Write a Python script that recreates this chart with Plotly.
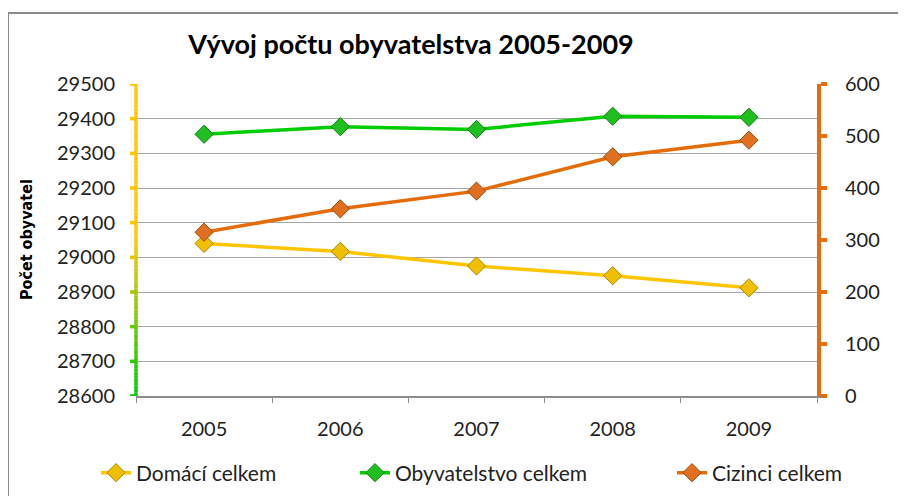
import plotly.graph_objects as go

years = ["2005", "2006", "2007", "2008", "2009"]
domaci = [29040, 29017, 28975, 28947, 28912]
obyvatelstvo = [29355, 29377, 29369, 29407, 29404]
cizinci = [315, 360, 394, 460, 492]

left_ticks = [28600, 28700, 28800, 28900, 29000, 29100, 29200, 29300, 29400, 29500]
right_ticks = [0, 100, 200, 300, 400, 500, 600]

FONT = "Lato"
# the page body has an 8px margin; figure sized to fit the 906x496 window
OFF = 8
W, H = 906 - OFF, 496 - OFF
PL, PR, PT, PB = 136, 817, 84, 396  # plot-area edges in window pixels
PW, PH = PR - PL, PB - PT

fig = go.Figure()

def mk(name, y, line_c, fill_c, edge_c, axis, leg):
    fig.add_trace(go.Scatter(
        x=years, y=y, name=name, mode="lines+markers", yaxis=axis, legend=leg,
        showlegend=True,
        line=dict(color=line_c, width=3.5),
        marker=dict(symbol="diamond", size=14, color=fill_c,
                    line=dict(color=edge_c, width=1)),
    ))

mk("Domácí celkem", domaci, "#FFC600", "#F0C000", "#A88600", "y", "legend")
mk("Obyvatelstvo celkem", obyvatelstvo, "#00CC00", "#1FBF1F", "#0E800E", "y", "legend2")
mk("Cizinci celkem", cizinci, "#E46C0A", "#E07020", "#9C4A0A", "y2", "legend3")

# gradient left axis line (yellow -> green)
def lerp(c1, c2, t):
    return "#%02X%02X%02X" % tuple(int(round(a + (b - a) * t)) for a, b in zip(c1, c2))

yel = (0xFF, 0xC6, 0x00)
grn = (0x00, 0xCC, 0x00)
lo, hi = left_ticks[0], left_ticks[-1]
def col_at(v):
    t = (29050 - v) / (29050 - 28630)
    t = min(max(t, 0), 1)
    return lerp(yel, grn, t)

shapes = []
n = 90
for i in range(n):
    a = lo + (hi - lo) * i / n
    b = lo + (hi - lo) * (i + 1) / n
    shapes.append(dict(type="line", xref="paper", yref="y", x0=0, x1=0, y0=a, y1=b,
                       line=dict(color=col_at((a + b) / 2), width=3.5), layer="above"))
for v in left_ticks:
    shapes.append(dict(type="line", xref="paper", xsizemode="pixel", xanchor=0,
                       x0=-6, x1=0, yref="y", y0=v, y1=v,
                       line=dict(color=col_at(v), width=3.5), layer="above"))
# chart border
shapes.append(dict(type="rect", xref="paper", yref="paper",
                   x0=(8 - PL) / PW, x1=1.3, y0=-0.6, y1=1 + (PT - 13) / PH,
                   line=dict(color="#8A8A8A", width=2), layer="below"))
fig.update_layout(shapes=shapes)

def leg(xpx):
    return dict(orientation="h", x=(xpx - PL) / PW, xanchor="left",
                y=-(473 - PB) / PH, yanchor="middle", visible=True,
                font=dict(family=FONT, size=21, color="#222222"),
                bgcolor="rgba(0,0,0,0)", borderwidth=0)

fig.update_layout(
    width=W, height=H, showlegend=True,
    margin=dict(l=PL - OFF, r=906 - PR, t=PT - OFF, b=496 - PB, autoexpand=False),
    paper_bgcolor="white", plot_bgcolor="white",
    font=dict(family=FONT, color="#222222"),
    title=dict(text="<b>Vývoj počtu obyvatelstva 2005-2009</b>",
               x=(411 - OFF) / W, xanchor="center", xref="container",
               y=1 - (45 - OFF) / H, yanchor="middle", yref="container",
               font=dict(family=FONT, size=27, color="#000000")),
    xaxis=dict(type="category", range=[-0.5, 4.5], showline=True, linecolor="#8C8C8C",
               linewidth=1.5, ticks="outside", tickson="boundaries", ticklen=5,
               tickcolor="#8C8C8C", showgrid=False, ticklabelstandoff=14, automargin=False,
               tickfont=dict(family=FONT, size=20, color="#222222")),
    yaxis=dict(range=[lo, hi], tickvals=left_ticks, ticktext=[str(v) for v in left_ticks],
               showgrid=True, gridcolor="#A6A6A6", automargin=False,
               gridwidth=1, showline=False, ticks="", zeroline=False,
               ticklabelstandoff=20,
               tickfont=dict(family=FONT, size=20, color="#222222")),
    yaxis2=dict(range=[0, 600], tickvals=right_ticks, ticktext=[str(v) for v in right_ticks],
                overlaying="y", side="right", automargin=False,
                showgrid=False, showline=True, linecolor="#E46C0A", linewidth=4,
                ticks="outside", ticklen=6, tickwidth=4, tickcolor="#E46C0A",
                zeroline=False, ticklabelstandoff=14,
                tickfont=dict(family=FONT, size=20, color="#222222")),
    legend=leg(96), legend2=leg(355), legend3=leg(672),
    annotations=[dict(text="<b>Počet obyvatel</b>", textangle=-90, xref="paper", yref="paper",
                      x=(26 - PL) / PW, y=0.5, xanchor="center", yanchor="middle",
                      showarrow=False,
                      font=dict(family="DejaVu Sans Condensed, Lato", size=16, color="#000000"))],
)

fig.write_html("out.html")
